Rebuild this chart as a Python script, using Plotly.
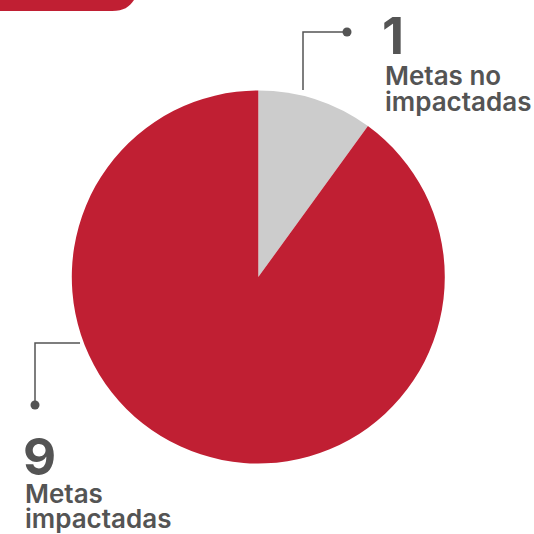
import plotly.graph_objects as go

labels = ["Metas no impactadas", "Metas impactadas"]
values = [1, 9]
colors = ["#CCCCCC", "#C01F33"]

W = H = 534
TEXT = "#545454"
FONT = "Inter"


def px(x):
    return x / W


def py(y):
    return 1 - y / H


fig = go.Figure(
    go.Pie(
        labels=labels,
        values=values,
        sort=False,
        direction="clockwise",
        rotation=0,
        marker=dict(colors=colors, line=dict(width=0)),
        textinfo="none",
        hoverinfo="label+value",
        showlegend=False,
        domain=dict(x=[px(71.8), px(444.8)], y=[py(463.5), py(90.5)]),
    )
)

shapes = []
# red header tab in the top-left corner
shapes.append(dict(
    type="path", xref="paper", yref="paper",
    path=(f"M {px(0)},{py(0)} L {px(134)},{py(0)} "
          f"C {px(129)},{py(7)} {px(124)},{py(11)} {px(112)},{py(11)} "
          f"L {px(0)},{py(11)} Z"),
    fillcolor=colors[1], line=dict(width=0), layer="above",
))

# leader line for the small slice
shapes.append(dict(type="path", xref="paper", yref="paper",
                   path=f"M {px(303)},{py(90)} L {px(303)},{py(32)} L {px(347)},{py(32)}",
                   line=dict(color=TEXT, width=1.5)))
shapes.append(dict(type="circle", xref="paper", yref="paper",
                   x0=px(342.5), x1=px(351.5), y0=py(36.5), y1=py(27.5),
                   fillcolor=TEXT, line=dict(width=0)))

# leader line for the large slice
shapes.append(dict(type="path", xref="paper", yref="paper",
                   path=f"M {px(80)},{py(343)} L {px(35)},{py(343)} L {px(35)},{py(405)}",
                   line=dict(color=TEXT, width=1.5)))
shapes.append(dict(type="circle", xref="paper", yref="paper",
                   x0=px(30.5), x1=px(39.5), y0=py(409.5), y1=py(400.5),
                   fillcolor=TEXT, line=dict(width=0)))

big = dict(size=51, color=TEXT, family=FONT, weight=700)
small = dict(size=26, color=TEXT, family=FONT, weight=600)

annotations = [
    dict(x=px(380), y=py(36), text=str(values[0]), font=big),
    dict(x=px(383), y=py(75), text="Metas no", font=small),
    dict(x=px(383), y=py(101), text="impactadas", font=small),
    dict(x=px(21), y=py(456), text=str(values[1]), font=big),
    dict(x=px(23), y=py(493), text="Metas", font=small),
    dict(x=px(23), y=py(518), text="impactadas", font=small),
]
for a in annotations:
    a.update(xref="paper", yref="paper", xanchor="left", yanchor="middle",
             showarrow=False, align="left")

fig.update_layout(
    width=W, height=H,
    margin=dict(l=0, r=0, t=0, b=0),
    paper_bgcolor="white",
    plot_bgcolor="white",
    shapes=shapes,
    annotations=annotations,
)

fig.write_html("out.html")
